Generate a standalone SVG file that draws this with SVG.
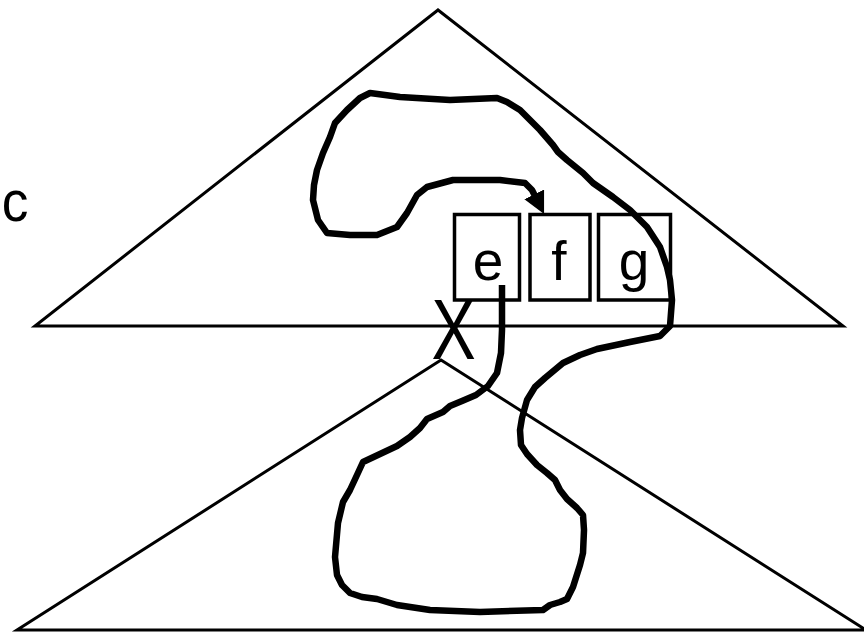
<svg xmlns="http://www.w3.org/2000/svg" width="864" height="632" viewBox="0 0 864 632">
<style>
.tri{fill:none;stroke:#000;stroke-width:3;stroke-linejoin:miter}
.box{fill:#fff;stroke:#000;stroke-width:3.5}
.lbl{font-family:"Liberation Sans",Arial,sans-serif;fill:#000;text-anchor:middle}
.curve{fill:none;stroke:#000;stroke-width:6.5;stroke-linejoin:round;stroke-linecap:butt}
</style>
<defs>
<marker id="ah" markerUnits="userSpaceOnUse" viewBox="0 0 22 22" markerWidth="22" markerHeight="22" refX="4" refY="11" orient="auto">
<path d="M0,0 L22,11 L0,22 z" fill="#000"/>
</marker>
</defs>
<rect width="864" height="632" fill="#fff"/>
<g id="upper-tree"><polygon class="tri" points="35,326 843,326 438,10"/></g>
<g id="lower-tree"><polygon class="tri" points="17,630 866,630 441,360"/></g>
<g id="label-c"><text class="lbl" transform="translate(15,221) scale(0.92,1)" font-size="58">c</text></g>
<g id="label-X"><text class="lbl" transform="translate(453.5,359) scale(0.78,1)" font-size="85">X</text></g>
<g id="box-e"><rect class="box" x="454.5" y="214.5" width="65" height="85.5"/><text class="lbl" x="488" y="280" font-size="55">e</text></g>
<g id="box-f"><rect class="box" x="530" y="214.5" width="60" height="85.5"/><text class="lbl" x="559" y="280" font-size="55">f</text></g>
<g id="box-g"><rect class="box" x="598.5" y="214.5" width="72" height="85.5"/><text class="lbl" x="634" y="280" font-size="55">g</text></g>
<g id="connectors">
<path class="curve" marker-end="url(#ah)" d="M502,285 L502,330 L501,353 L497,373 L488,386 L476,395 L462,401 L450,406 L443,412 L427,419 L420,428 L410,437 L397,446 L380,454 L363,462 L357,475 L350,490 L343,502 L338,523 L335,557 L337,575 L342,585 L350,593 L362,597 L377,599 L397,605 L430,610 L480,612 L543,610 L550,605 L560,602 L567,599 L573,587 L580,565 L583,553 L584,530 L583,515 L577,508 L567,499 L560,490 L555,480 L547,473 L537,465 L527,454 L521,445 L520,430 L522,418 L527,400 L535,387 L545,378 L563,363 L580,355 L597,349 L630,342 L660,336 L670,326 L672,300 L670,280 L667,267 L660,247 L647,227 L630,210 L613,197 L593,183 L583,173 L567,160 L558,152 L553,145 L540,130 L520,110 L507,102 L497,98 L450,100 L400,97 L370,93 L360,98 L347,110 L335,123 L330,137 L323,153 L317,170 L314,185 L313,200 L318,220 L327,233 L350,235 L377,235 L397,227 L407,213 L417,195 L427,187 L453,180 L500,180 L525,183 L532,190 L536,198"/>
</g>
</svg>
